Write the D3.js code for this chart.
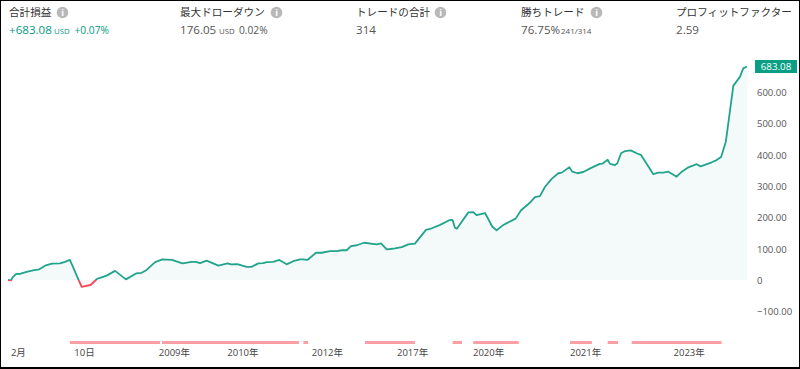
<!DOCTYPE html>
<html>
<head>
<meta charset="utf-8">
<script src="https://cdn.jsdelivr.net/npm/d3@7"></script>
<style>
  html, body { margin: 0; padding: 0; background: #fff; }
  text { font-family: "Open Sans", "Noto Sans CJK JP", sans-serif; }
</style>
</head>
<body>
<script>
// trade position along the x axis (0 - 314 trades)
const tradePos = [0,1.3,2,3.4,5.4,7.9,10.6,13.3,16.1,18.6,22.1,24.2,26.3,29.9,31.3,35.1,37.9,39.1,41.9,45.5,50.1,54.4,56.8,58.9,60.3,62.5,65.6,69.6,74.1,78.1,79.8,81.6,84.4,89.4,93.3,94.8,97.4,101.4,103.5,106.4,108.5,109.9,112.7,115.3,118.4,121.2,124.1,125.4,127.2,130.9,133.3,136.8,139.7,141.8,143.9,145.7,148.2,151.3,156.7,158.5,160.9,162.3,164.4,167.3,170.1,172.9,177.6,179.3,183.6,187.5,188.9,189.9,190.7,195.6,197.7,199.1,202.7,205.8,207.6,210.5,215.7,218,221.5,223.9,226,228.2,231,233.8,235.3,238.5,239.8,241.9,244.4,248,251.5,252.7,254.8,255.8,257.9,258.9,260.5,262.2,264.6,267.1,268.9,274.2,276.3,278.4,280.6,284.1,286.3,289.1,292.6,294.3,299,301.1,303,305,308.2,311,312.4,314];
// cumulative profit in USD
const equity = [1,0,10,20,21,27,32,35,48,53,54,59,65,3,-21,-15,5,8,15,30,3,22,24,33,43,58,67,65,54,59,59,55,63,47,54,51,52,43,43,54,55,58,59,65,51,61,67,67,65,88,88,93,93,96,96,109,112,120,115,118,99,100,102,106,115,117,161,164,177,192,193,168,165,217,218,208,215,171,160,177,197,224,246,266,269,299,324,342,344,361,347,342,346,360,372,373,385,372,368,374,406,413,415,406,401,339,344,344,347,331,347,361,371,364,377,384,394,443,622,650,677,683.08];

// periods in drawdown, shown as the pink strip under the chart
const ddStart = [26.3,65.4,125.5,151.7,188.9,197.7,238.8,254.8,265];
const ddEnd = [64.6,123.6,127.5,172.9,192.9,217,248.1,259.2,303.2];

const xTickPos = [4.2,32.3,70.5,99.6,135.5,171.7,204,245.2,289.2];
const xTickLabels = ["2月","10日","2009年","2010年","2012年","2017年","2020年","2021年","2023年"];
const yTicks = [-100,0,100,200,300,400,500,600];
const lastValue = 683.08;

const headerTitles = ["合計損益","最大ドローダウン","トレードの合計","勝ちトレード","プロフィットファクター"];
const headerX = [9,180,356,521,676];
const headerInfoX = [62.5,276.5,440.5,596.5,null];

const width = 800, height = 369;
const green = "#089981", lineGreen = "#22a38b", red = "#f23645";

const svg = d3.select("body").append("svg")
    .attr("width", width)
    .attr("height", height)
    .style("display", "block");

const x = d3.scaleLinear().domain([0, 314]).range([8, 747]);
const y = d3.scaleLinear().domain([-100, 600]).range([311.6, 92.5]);

const points = tradePos.map((t, i) => ({t: t, v: equity[i]}));

// split line/area colours at the zero level
const defs = svg.append("defs");
const zeroOffset = (y(0) - 50) / 250;
const addGradient = (id, top, bottom) => {
    const g = defs.append("linearGradient")
        .attr("id", id)
        .attr("gradientUnits", "userSpaceOnUse")
        .attr("x1", 0).attr("x2", 0)
        .attr("y1", 50).attr("y2", 300);
    g.append("stop").attr("offset", zeroOffset).attr("stop-color", top);
    g.append("stop").attr("offset", zeroOffset).attr("stop-color", bottom);
};
addGradient("lineColor", lineGreen, "#f4475a");
addGradient("areaColor", "#f4fafa", "#fef6f7");

const area = d3.area().x(d => x(d.t)).y0(y(0)).y1(d => y(d.v));
const line = d3.line().x(d => x(d.t)).y(d => y(d.v));

svg.append("path")
    .attr("d", area(points))
    .attr("fill", "url(#areaColor)");

svg.append("path")
    .attr("d", line(points))
    .attr("fill", "none")
    .attr("stroke", "url(#lineColor)")
    .attr("stroke-width", 1.8)
    .attr("stroke-linejoin", "round");

// drawdown strip
svg.selectAll("rect.dd")
    .data(ddStart)
    .enter()
    .append("rect")
      .attr("class", "dd")
      .attr("x", d => x(d))
      .attr("y", 341)
      .attr("width", (d, i) => x(ddEnd[i]) - x(d))
      .attr("height", 3)
      .attr("fill", "#fb9fa7");

// x axis
const xAxis = d3.axisBottom(x)
    .tickValues(xTickPos)
    .tickSize(0)
    .tickFormat((d, i) => xTickLabels[i]);
const xG = svg.append("g")
    .attr("transform", "translate(0,346)")
    .call(xAxis);
xG.select(".domain").remove();
xG.selectAll("text")
    .attr("fill", "#444")
    .attr("font-size", 9.5)
    .style("font-family", '"Open Sans", "Noto Sans CJK JP", sans-serif');

// y axis
const yAxis = d3.axisRight(y)
    .tickValues(yTicks)
    .tickSize(0)
    .tickPadding(0)
    .tickFormat(d => d === 0 ? "0" : (d < 0 ? "\u2212" + Math.abs(d).toFixed(2) : d.toFixed(2)));
const yG = svg.append("g")
    .attr("transform", "translate(757,0)")
    .call(yAxis);
yG.select(".domain").remove();
yG.selectAll("text")
    .attr("fill", "#555")
    .attr("font-size", 9.5)
    .style("font-family", '"Open Sans", sans-serif');

// last value badge
svg.append("rect")
    .attr("x", 755)
    .attr("y", y(lastValue) - 6.5)
    .attr("width", 42)
    .attr("height", 13)
    .attr("fill", "#0a9e85");
svg.append("text")
    .attr("x", 776)
    .attr("y", y(lastValue))
    .attr("dy", "0.35em")
    .attr("text-anchor", "middle")
    .attr("fill", "#fff")
    .attr("font-size", 9.8)
    .text(lastValue.toFixed(2));

// header titles + info icons
svg.selectAll("text.title")
    .data(headerTitles)
    .enter()
    .append("text")
      .attr("class", "title")
      .attr("x", (d, i) => headerX[i])
      .attr("y", 16)
      .attr("fill", "#333")
      .attr("font-size", 10.6)
      .style("font-family", '"Noto Sans CJK JP", sans-serif')
      .text(d => d);

const info = svg.selectAll("g.info")
    .data(headerInfoX.filter(d => d !== null))
    .enter()
    .append("g")
      .attr("class", "info")
      .attr("transform", d => `translate(${d},12.5)`);
info.append("circle").attr("r", 5.8).attr("fill", "#b8b8b8");
info.append("text")
    .attr("text-anchor", "middle")
    .attr("y", 3.5)
    .attr("fill", "#fff")
    .attr("font-size", 9)
    .attr("font-weight", 700)
    .text("i");

// header values
const addText = (xPos, txt, size, color) => svg.append("text")
    .attr("x", xPos)
    .attr("y", 34)
    .attr("fill", color)
    .attr("font-size", size)
    .text(txt);

addText(9, "+683.08", 11.6, green);
addText(54, "USD", 7.8, green);
addText(74.5, "+0.07%", 10.2, green);
addText(180, "176.05", 11.6, "#555");
addText(219, "USD", 7.8, "#555");
addText(239, "0.02%", 10.2, "#555");
addText(356, "314", 11.6, "#555");
addText(521, "76.75%", 11.6, "#555");
addText(561, "241/314", 8, "#555");
addText(676, "2.59", 11.6, "#555");

// screenshot frame, bottom edge is 2px in the reference
svg.append("rect")
    .attr("x", 0.5)
    .attr("y", 0.5)
    .attr("width", width - 1)
    .attr("height", height - 1)
    .attr("fill", "none")
    .attr("stroke", "#000")
    .attr("stroke-width", 1);
svg.append("line")
    .attr("x1", 0)
    .attr("x2", width)
    .attr("y1", height - 1)
    .attr("y2", height - 1)
    .attr("stroke", "#000")
    .attr("stroke-width", 2);
</script>
</body>
</html>
